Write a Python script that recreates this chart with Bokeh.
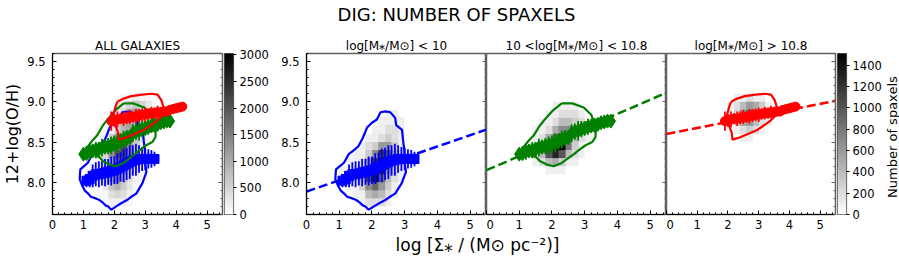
import numpy as np
from bokeh.plotting import figure
from bokeh.layouts import row, column
from bokeh.models import (LinearColorMapper, SingleIntervalTicker, FixedTicker, LinearAxis,
                          PrintfTickFormatter, Range1d, CustomJSTickFormatter)
from bokeh.palettes import Greys256
from bokeh.embed import file_html
from bokeh.resources import INLINE
from bokeh.core.properties import value

FONT = "DejaVu Sans"

# ---------------- data ----------------
suptitle = "DIG: NUMBER OF SPAXELS"
panel_titles = ["ALL GALAXIES", "log[M⁎/M⊙] < 10", "10 <log[M⁎/M⊙] < 10.8", "log[M⁎/M⊙] > 10.8"]
x_label = "log [Σ⁎ / (M⊙ pc⁻²)]"
y_label = "12+log(O/H)"
cbar_label = "Number of spaxels"
x_lim = [0, 5.5]
y_lim = [7.6, 9.6]
cbar_all_ticks = [0, 500, 1000, 1500, 2000, 2500, 3000]
cbar_all_max = 3025
cbar_bin_ticks = [0, 200, 400, 600, 800, 1000, 1200, 1400]
cbar_bin_max = 1510

bin_dx = 0.2
bin_dy = 0.1

# 2D histograms (counts in hundreds), rows listed from top (high O/H) to bottom
blue_hist_x0, blue_hist_y0 = 1.0, 7.7
blue_hist = [
    [0, 0, 0, 0, 0, 0, 0, 1, 1, 0, 0],
    [0, 0, 0, 0, 0, 0, 1, 1, 1, 1, 0],
    [0, 0, 0, 0, 0, 1, 1, 2, 2, 1, 0],
    [0, 0, 0, 0, 1, 1, 2, 3, 2, 1, 0],
    [0, 0, 0, 1, 2, 3, 6, 6, 3, 1, 0],
    [0, 0, 1, 1, 3, 7, 12, 10, 5, 2, 0],
    [0, 1, 1, 2, 6, 12, 15, 10, 4, 2, 1],
    [1, 1, 2, 4, 10, 15, 13, 6, 3, 1, 0],
    [1, 1, 2, 4, 11, 14, 9, 4, 2, 1, 0],
    [0, 1, 1, 3, 7, 9, 6, 3, 1, 0, 0],
    [0, 0, 1, 1, 4, 5, 4, 2, 1, 0, 0],
    [0, 0, 0, 1, 2, 2, 2, 1, 0, 0, 0],
]
green_hist_x0, green_hist_y0 = 1.0, 8.1
green_hist = [
    [0, 0, 0, 0, 0, 1, 1, 1, 1, 0, 0, 0],
    [0, 0, 0, 0, 1, 1, 2, 2, 2, 1, 0, 0],
    [0, 0, 0, 1, 1, 2, 4, 4, 3, 2, 1, 0],
    [0, 0, 1, 1, 2, 5, 7, 7, 4, 2, 1, 0],
    [0, 0, 1, 2, 5, 9, 12, 9, 4, 2, 1, 0],
    [0, 1, 1, 3, 8, 13, 15, 8, 3, 1, 0, 0],
    [0, 1, 2, 4, 10, 13, 10, 4, 2, 1, 0, 0],
    [0, 0, 1, 2, 4, 5, 3, 1, 1, 0, 0, 0],
    [0, 0, 0, 0, 1, 1, 1, 0, 0, 0, 0, 0],
]
red_hist_x0, red_hist_y0 = 2.0, 8.5
red_hist = [
    [0, 1, 1, 2, 1, 1, 0, 0],
    [1, 2, 4, 6, 5, 3, 1, 0],
    [1, 3, 7, 9, 7, 4, 2, 1],
    [1, 3, 5, 6, 4, 2, 1, 0],
    [0, 1, 2, 3, 2, 1, 0, 0],
    [0, 0, 1, 1, 0, 0, 0, 0],
]

# contours
blue_cont_x = [2.41, 2.56, 2.71, 2.74, 2.92, 2.95, 2.99, 3.00, 3.04, 2.91, 2.71, 2.55, 2.41, 2.22, 2.10,
               1.98, 1.90, 1.80, 1.73, 1.62, 1.52, 1.40, 1.24, 1.15, 1.04, 0.96, 0.88, 0.90, 1.02, 1.14,
               1.29, 1.45, 1.59, 1.72, 1.85, 2.00, 2.15, 2.26, 2.41]
blue_cont_y = [8.88, 8.87, 8.80, 8.71, 8.65, 8.52, 8.40, 8.24, 8.13, 7.99, 7.86, 7.82, 7.78, 7.74, 7.71,
               7.68, 7.66, 7.70, 7.71, 7.75, 7.78, 7.80, 7.82, 7.86, 7.90, 7.96, 8.04, 8.16, 8.20, 8.24,
               8.35, 8.40, 8.45, 8.55, 8.68, 8.74, 8.78, 8.87, 8.88]
green_cont_x = [2.30, 2.62, 2.97, 3.20, 3.28, 3.34, 3.33, 3.23, 3.03, 2.85, 2.67, 2.50, 2.30, 2.05, 1.85,
                1.64, 1.52, 1.30, 1.15, 1.10, 1.25, 1.44, 1.62, 1.82, 2.05, 2.30]
green_cont_y = [8.98, 8.98, 8.93, 8.84, 8.75, 8.65, 8.56, 8.50, 8.46, 8.41, 8.35, 8.30, 8.24, 8.20, 8.22,
                8.26, 8.31, 8.35, 8.38, 8.42, 8.50, 8.58, 8.70, 8.80, 8.90, 8.98]
red_cont_x = [2.10, 2.30, 2.55, 2.90, 3.20, 3.40, 3.52, 3.62, 3.55, 3.40, 3.22, 2.95, 2.65, 2.40, 2.15,
              2.12, 2.02, 1.96, 2.04, 2.10]
red_cont_y = [9.00, 9.04, 9.07, 9.09, 9.10, 9.09, 9.02, 8.90, 8.83, 8.77, 8.72, 8.65, 8.60, 8.56, 8.53,
              8.62, 8.72, 8.82, 8.94, 9.00]

# running medians with error bars
blue_x = [1.1, 1.2, 1.3, 1.4, 1.5, 1.6, 1.7, 1.8, 1.9, 2.0, 2.1, 2.2, 2.3, 2.4, 2.5, 2.6, 2.7, 2.8, 2.9, 3.0,
          3.1, 3.2, 3.3]
blue_y = [8.02, 8.04, 8.08, 8.10, 8.10, 8.11, 8.12, 8.13, 8.14, 8.15, 8.17, 8.19, 8.21, 8.23, 8.25, 8.27,
          8.28, 8.29, 8.29, 8.29, 8.29, 8.29, 8.29]
blue_err = [0.08, 0.10, 0.14, 0.15, 0.16, 0.15, 0.17, 0.16, 0.18, 0.17, 0.19, 0.18, 0.21, 0.20, 0.21, 0.19,
            0.20, 0.17, 0.15, 0.14, 0.12, 0.11, 0.09]
green_x = [1.0, 1.1, 1.2, 1.3, 1.4, 1.5, 1.6, 1.7, 1.8, 1.9, 2.0, 2.1, 2.2, 2.3, 2.4, 2.5, 2.6, 2.7, 2.8, 2.9,
           3.0, 3.1, 3.2, 3.3, 3.4, 3.5, 3.6, 3.7, 3.8]
green_y = [8.35, 8.36, 8.38, 8.39, 8.40, 8.41, 8.43, 8.44, 8.45, 8.46, 8.48, 8.49, 8.51, 8.53, 8.55, 8.56,
           8.61, 8.63, 8.64, 8.66, 8.67, 8.69, 8.70, 8.71, 8.72, 8.74, 8.75, 8.76, 8.76]
green_err = [0.07, 0.09, 0.10, 0.08, 0.10, 0.09, 0.11, 0.09, 0.10, 0.11, 0.10, 0.12, 0.10, 0.11, 0.10, 0.09,
             0.11, 0.10, 0.12, 0.10, 0.09, 0.10, 0.08, 0.09, 0.08, 0.07, 0.08, 0.06, 0.05]
red_x = [1.9, 2.0, 2.1, 2.2, 2.3, 2.4, 2.5, 2.6, 2.7, 2.8, 2.9, 3.0, 3.1, 3.2, 3.3, 3.4, 3.5, 3.6, 3.7, 3.8,
         3.9, 4.0, 4.1, 4.2]
red_y = [8.76, 8.77, 8.78, 8.79, 8.79, 8.80, 8.81, 8.81, 8.82, 8.83, 8.84, 8.84, 8.85, 8.86, 8.86, 8.87,
         8.87, 8.88, 8.88, 8.90, 8.91, 8.92, 8.93, 8.94]
red_err = [0.12, 0.08, 0.10, 0.07, 0.09, 0.08, 0.09, 0.07, 0.09, 0.08, 0.08, 0.09, 0.07, 0.08, 0.07, 0.08,
           0.07, 0.06, 0.06, 0.05, 0.05, 0.04, 0.04, 0.04]

# linear fits (intercept, slope)
blue_fit = (7.885, 0.140)
green_fit = (8.15, 0.175)
red_fit = (8.60, 0.075)

BLUE, GREEN, RED = "#0000ff", "#008000", "#ff0000"

groups = [
    dict(color=BLUE, marker="square", size=9, hist=blue_hist, hx=blue_hist_x0, hy=blue_hist_y0,
         cx=blue_cont_x, cy=blue_cont_y, x=blue_x, y=blue_y, e=blue_err, fit=blue_fit),
    dict(color=GREEN, marker="diamond", size=14, hist=green_hist, hx=green_hist_x0, hy=green_hist_y0,
         cx=green_cont_x, cy=green_cont_y, x=green_x, y=green_y, e=green_err, fit=green_fit),
    dict(color=RED, marker="circle", size=9, hist=red_hist, hx=red_hist_x0, hy=red_hist_y0,
         cx=red_cont_x, cy=red_cont_y, x=red_x, y=red_y, e=red_err, fit=red_fit),
]

palette = list(reversed(Greys256))
TICK_FS = "11.5px"
FRAME_H = 161
TOP_B, BOT_B = 29, 21
FRAME_GRAY = "#606060"


def hist_array(rows):
    return np.array(rows[::-1], dtype=float) * 100.0


def style_axis(ax, major_interval, fmt=None):
    ax.ticker = SingleIntervalTicker(interval=major_interval, num_minor_ticks=5)
    ax.major_tick_in = 4
    ax.major_tick_out = 0
    ax.minor_tick_in = 2
    ax.minor_tick_out = 0
    ax.major_tick_line_color = "black"
    ax.minor_tick_line_color = "black"
    ax.axis_line_color = "black"
    ax.major_label_text_font = FONT
    ax.major_label_text_font_size = TICK_FS
    ax.major_label_text_color = "black"
    ax.major_label_standoff = 7
    if fmt:
        ax.formatter = PrintfTickFormatter(format=fmt)


def make_panel(title, fw, left, right, show_y, ylab=None):
    p = figure(frame_width=fw, frame_height=FRAME_H, x_range=Range1d(*x_lim), y_range=Range1d(*y_lim),
               min_border_left=left, min_border_right=right, min_border_top=TOP_B,
               min_border_bottom=BOT_B, toolbar_location=None, output_backend="svg", title=title)
    p.title.text_font = FONT
    p.title.text_font_size = "12px"
    p.title.text_font_style = "normal"
    p.title.text_color = "black"
    p.title.align = "center"
    p.title.standoff = 2
    p.grid.visible = False
    p.outline_line_color = FRAME_GRAY
    p.outline_line_width = 1.5
    p.background_fill_color = "white"
    p.border_fill_color = "white"
    style_axis(p.xaxis[0], 1)
    p.xaxis[0].major_label_standoff = 5
    if show_y:
        style_axis(p.yaxis[0], 0.5, "%.1f")
    else:
        p.yaxis.visible = False
    if ylab:
        p.yaxis[0].axis_label = ylab
        p.yaxis[0].axis_label_text_font = FONT
        p.yaxis[0].axis_label_text_font_size = "16px"
        p.yaxis[0].axis_label_text_font_style = "normal"
        p.yaxis[0].axis_label_text_color = "black"
        p.yaxis[0].axis_label_standoff = 2
    # inward ticks on the right edge (no labels)
    rax = LinearAxis(ticker=SingleIntervalTicker(interval=0.5, num_minor_ticks=5),
                     formatter=CustomJSTickFormatter(code="return ''"),
                     major_tick_in=4, major_tick_out=0, minor_tick_in=2, minor_tick_out=0,
                     major_tick_line_color=FRAME_GRAY, minor_tick_line_color=FRAME_GRAY,
                     axis_line_color=FRAME_GRAY, major_label_text_font_size="0px",
                     major_label_standoff=0)
    p.add_layout(rax, "right")
    return p


def make_cbar(mapper, vmax, ticks, right):
    c = figure(frame_width=9, frame_height=FRAME_H, x_range=Range1d(0, 1), y_range=Range1d(0, vmax),
               min_border_left=0, min_border_right=right, min_border_top=TOP_B, min_border_bottom=BOT_B,
               toolbar_location=None, output_backend="svg", y_axis_location="right")
    ramp = np.linspace(0, vmax, 256).reshape(256, 1)
    c.image(image=[ramp], x=0, y=0, dw=1, dh=vmax, color_mapper=mapper)
    c.grid.visible = False
    c.xaxis.visible = False
    c.outline_line_color = "#555555"
    c.outline_line_width = 1.2
    ax = c.yaxis[0]
    ax.ticker = FixedTicker(ticks=ticks, minor_ticks=[])
    ax.major_tick_in = 0
    ax.major_tick_out = 3
    ax.minor_tick_in = 0
    ax.minor_tick_out = 0
    ax.major_tick_line_color = "black"
    ax.axis_line_color = None
    ax.major_label_text_font = FONT
    ax.major_label_text_font_size = TICK_FS
    ax.major_label_text_color = "black"
    ax.major_label_standoff = 3
    return c


def draw_group(p, g, with_fit):
    if with_fit:
        a, b = g["fit"]
        p.line(x=x_lim, y=[a + b * xx for xx in x_lim], line_color=g["color"], line_width=2.5,
               line_dash="9 4")
    p.line(x=g["cx"], y=g["cy"], line_color=g["color"], line_width=2.2)
    lo = [yy - ee for yy, ee in zip(g["y"], g["e"])]
    hi = [yy + ee for yy, ee in zip(g["y"], g["e"])]
    p.segment(x0=g["x"], y0=lo, x1=g["x"], y1=hi, line_color=g["color"], line_width=1.8)
    p.scatter(x=g["x"], y=g["y"], marker=g["marker"], size=g["size"], fill_color=g["color"],
              line_color=g["color"])


# ---------------- panels ----------------
mapper_all = LinearColorMapper(palette=palette, low=0, high=cbar_all_max)
mapper_bin = LinearColorMapper(palette=palette, low=0, high=cbar_bin_max)

# panel 1: all galaxies (sum of the three histograms)
comb_x0, comb_y0 = 1.0, 7.7
comb = np.zeros((14, 13))
for g in groups:
    arr = hist_array(g["hist"])
    i0 = int(round((g["hx"] - comb_x0) / bin_dx))
    j0 = int(round((g["hy"] - comb_y0) / bin_dy))
    comb[j0:j0 + arr.shape[0], i0:i0 + arr.shape[1]] += arr

p1 = make_panel(panel_titles[0], 170, 50, 2, True, y_label)
p1.image(image=[comb], x=comb_x0, y=comb_y0, dw=comb.shape[1] * bin_dx, dh=comb.shape[0] * bin_dy,
         color_mapper=mapper_all)
for g in groups:
    draw_group(p1, g, False)
cb1 = make_cbar(mapper_all, cbar_all_max, cbar_all_ticks, 37)

children = [p1, cb1]
specs = [(180, 35, 0, True), (180, 0, 0, False), (169, 0, 2, False)]
for k, (g, spec) in enumerate(zip(groups, specs)):
    fw, left, right, show_y = spec
    p = make_panel(panel_titles[k + 1], fw, left, right, show_y)
    arr = hist_array(g["hist"])
    p.image(image=[arr], x=g["hx"], y=g["hy"], dw=arr.shape[1] * bin_dx, dh=arr.shape[0] * bin_dy,
            color_mapper=mapper_bin)
    draw_group(p, g, True)
    children.append(p)
cb2 = make_cbar(mapper_bin, cbar_bin_max, cbar_bin_ticks, 37)
children.append(cb2)

ROW_H = TOP_B + FRAME_H + BOT_B


def text_fig(w, h, tx, ty, txt, fs, angle=0.0):
    f = figure(width=w, height=h, x_range=Range1d(0, w), y_range=Range1d(0, h), min_border=0,
               toolbar_location=None, output_backend="svg")
    f.axis.visible = False
    f.grid.visible = False
    f.outline_line_color = None
    f.text(x=[tx], y=[ty], text=[txt], text_font=value(FONT), text_font_size=fs,
           text_align="center", text_baseline="middle", angle=angle, text_color="black")
    return f


children.append(text_fig(18, ROW_H, 8, ROW_H - (TOP_B + FRAME_H / 2), cbar_label, "13px", angle=np.pi / 2))

title_fig = text_fig(898, 24, 456, 10.5, suptitle, "18px")
xlabel_fig = text_fig(898, 23, 477, 14, x_label, "17px")

layout = column(title_fig, row(*children), xlabel_fig)
open("out.html", "w").write(file_html(layout, INLINE))
